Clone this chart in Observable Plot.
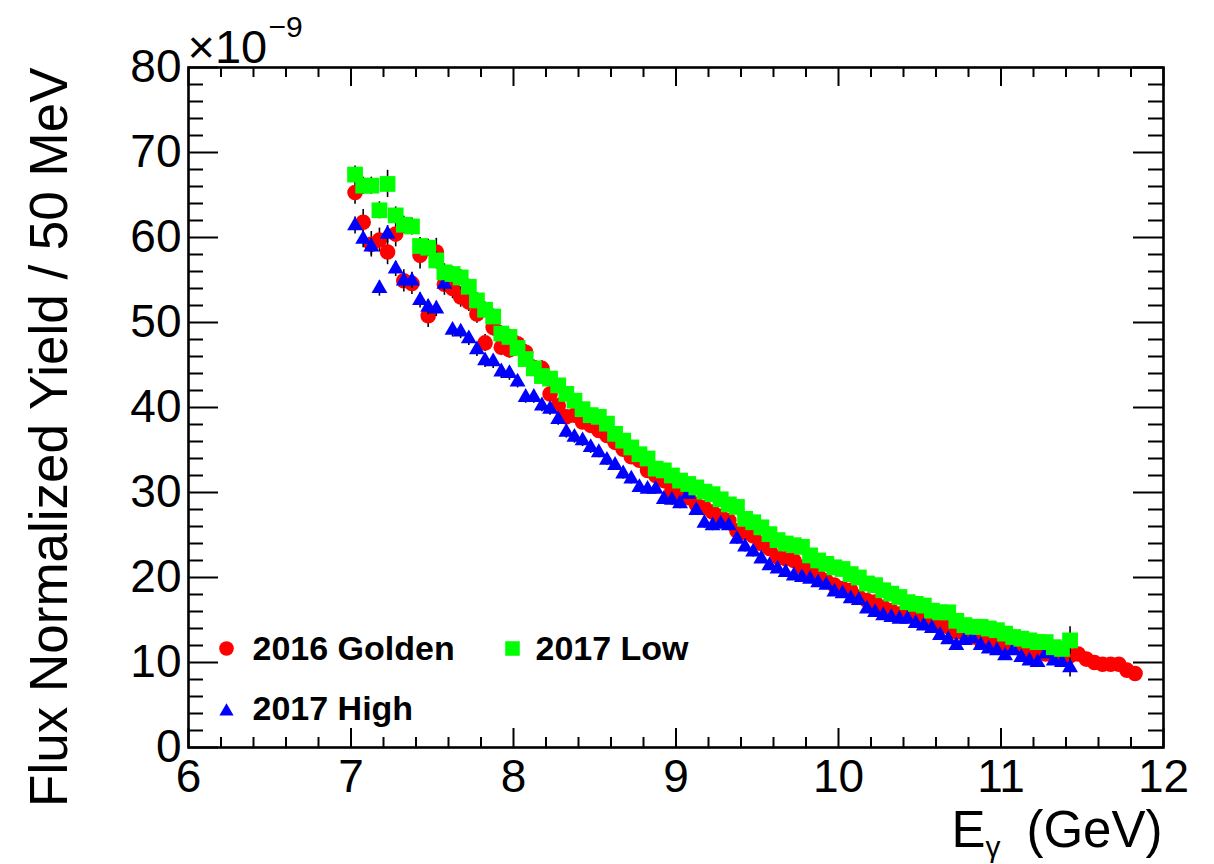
<!DOCTYPE html>
<html>
<head>
<meta charset="utf-8">
<script src="https://cdn.jsdelivr.net/npm/d3@7"></script>
<script src="https://cdn.jsdelivr.net/npm/@observablehq/plot@0.6"></script>
<style>
  html, body { margin: 0; padding: 0; background: #fff; }
  svg { display: block; }
</style>
</head>
<body>
<div id="chart"></div>
<script>
// ---- Bin centres (GeV), 50 MeV bins ----
const energy = [
  7.025,7.075,7.125,7.175,7.225,7.275,7.325,7.375,7.425,7.475,
  7.525,7.575,7.625,7.675,7.725,7.775,7.825,7.875,7.925,7.975,
  8.025,8.075,8.125,8.175,8.225,8.275,8.325,8.375,8.425,8.475,
  8.525,8.575,8.625,8.675,8.725,8.775,8.825,8.875,8.925,8.975,
  9.025,9.075,9.125,9.175,9.225,9.275,9.325,9.375,9.425,9.475,
  9.525,9.575,9.625,9.675,9.725,9.775,9.825,9.875,9.925,9.975,
  10.025,10.075,10.125,10.175,10.225,10.275,10.325,10.375,10.425,10.475,
  10.525,10.575,10.625,10.675,10.725,10.775,10.825,10.875,10.925,10.975,
  11.025,11.075,11.125,11.175,11.225,11.275,11.325,11.375,11.425,11.475,
  11.525,11.575,11.625,11.675,11.725,11.775,11.825
];

// ---- Series values (x 1e-9) ----
const golden2016 = [
  65.3,61.8,59.2,59.7,58.3,60.4,54.9,54.6,57.9,50.8,
  58.3,54.5,54.0,53.0,52.4,51.0,47.6,49.4,47.1,46.8,
  47.5,46.5,44.7,44.6,41.6,40.2,38.9,39.1,38.3,37.9,
  37.3,36.7,35.9,35.1,34.2,33.8,32.6,32.0,31.4,30.2,
  30.0,29.4,28.6,28.2,27.7,27.2,26.7,25.5,25.3,24.9,
  24.0,23.4,22.4,22.2,22.0,21.2,20.8,20.2,19.6,19.1,
  18.7,18.5,17.7,17.3,17.1,16.5,16.1,15.7,15.5,15.3,
  15.1,14.9,14.7,14.2,13.6,13.4,13.0,12.6,12.2,12.4,
  12.0,11.8,11.6,11.4,11.2,11.0,10.8,10.6,10.8,11.0,
  10.4,10.0,9.8,9.8,9.8,9.1,8.7
];
const low2017 = [
  67.4,66.1,66.1,63.2,66.3,62.6,61.5,61.3,59.0,58.8,
  57.3,55.9,55.7,55.3,54.2,52.6,51.5,50.7,48.7,48.3,
  47.0,45.7,44.6,43.7,43.4,42.6,41.6,40.8,39.8,39.1,
  38.9,38.1,36.9,36.1,35.3,34.5,34.0,32.8,32.6,32.0,
  31.4,31.0,30.6,30.1,29.8,29.2,28.6,28.3,26.9,26.5,
  25.9,25.1,24.4,24.0,23.8,23.6,22.6,22.0,21.6,21.2,
  21.0,20.4,20.0,19.3,19.1,18.5,18.1,17.7,17.1,16.9,
  16.7,16.1,15.9,15.9,14.9,14.4,14.2,14.2,14.0,13.8,
  13.4,13.0,12.8,12.6,12.4,12.4,11.8,11.6,12.6
];
const high2017 = [
  61.4,59.8,58.9,54.0,60.4,56.3,54.9,54.9,52.6,51.8,
  51.6,54.5,49.1,48.9,48.1,46.8,45.5,45.4,44.2,44.0,
  43.0,41.2,41.2,40.2,39.8,38.6,37.1,36.5,36.1,35.3,
  34.7,33.8,33.2,32.2,31.6,30.6,30.4,30.4,29.2,29.1,
  28.7,29.8,27.9,26.4,26.1,26.3,26.1,24.5,23.6,23.0,
  22.2,21.4,21.0,20.6,20.2,20.0,19.8,19.4,19.1,18.3,
  18.1,17.5,17.3,16.3,15.9,15.5,15.3,15.1,15.1,14.6,
  14.3,14.0,13.2,12.7,12.0,12.6,12.8,12.0,11.6,11.4,
  10.8,11.4,10.6,10.2,10.0,11.0,10.2,10.0,9.4
];

// ---- Statistical errors (x 1e-9) ----
const golden2016Err = [
  1.4,1.5,1.5,1.4,1.5,1.5,1.3,1.3,1.6,1.4,
  1.6,1.3,1.2,1.2,1.1,1.1,1.0,1.0,1.0,1.0,
  0.9,0.9,0.9,0.9,0.9,0.9,0.8,0.8,0.8,0.8,
  0.7,0.7,0.7,0.7,0.7,0.7,0.7,0.7,0.7,0.7,
  0.7,0.7,0.7,0.7,0.7,0.7,0.7,0.7,0.7,0.7,
  0.6,0.6,0.6,0.6,0.6,0.6,0.6,0.6,0.6,0.6,
  0.6,0.6,0.6,0.6,0.6,0.6,0.6,0.6,0.6,0.6,
  0.5,0.5,0.5,0.5,0.5,0.5,0.5,0.5,0.5,0.5,
  0.5,0.5,0.5,0.5,0.5,0.5,0.5,0.5,0.5,0.5,
  0.5,0.5,0.5,0.5,0.5,0.5,0.5
];
const low2017Err = [
  1.0,1.0,1.0,1.0,1.6,1.0,1.0,1.0,1.0,1.0,
  1.0,1.0,0.9,0.9,0.9,0.9,0.9,0.9,0.9,0.9,
  0.8,0.8,0.8,0.8,0.8,0.8,0.8,0.8,0.8,0.8,
  0.6,0.6,0.6,0.6,0.6,0.6,0.6,0.6,0.6,0.6,
  0.6,0.6,0.6,0.6,0.6,0.6,0.6,0.6,0.6,0.6,
  0.5,0.5,0.5,0.5,0.5,0.5,0.5,0.5,0.5,0.5,
  0.5,0.5,0.5,0.5,0.5,0.5,0.5,0.5,0.5,0.5,
  0.5,0.5,0.5,0.5,0.5,0.5,0.5,0.5,0.5,0.5,
  0.5,0.5,0.5,0.5,0.5,0.5,0.5,0.5,1.6
];
const high2017Err = [
  1.0,1.0,1.0,0.9,1.0,0.9,0.9,0.9,0.9,0.9,
  0.9,0.9,0.8,0.8,0.8,0.8,0.8,0.8,0.8,0.8,
  0.7,0.7,0.7,0.7,0.7,0.7,0.7,0.7,0.7,0.7,
  0.6,0.6,0.6,0.6,0.6,0.6,0.6,0.6,0.6,0.6,
  0.6,0.6,0.6,0.6,0.6,0.6,0.6,0.6,0.6,0.6,
  0.5,0.5,0.5,0.5,0.5,0.5,0.5,0.5,0.5,0.5,
  0.5,0.5,0.5,0.5,0.5,0.5,0.5,0.5,0.5,0.5,
  0.5,0.5,0.5,0.5,0.5,0.5,0.5,0.5,0.5,0.5,
  0.5,0.5,0.5,0.5,0.5,0.5,0.5,0.5,1.1
];

// ---- Series metadata ----
const seriesNames = ["2016 Golden", "2017 Low", "2017 High"];
const seriesColors = ["#ff0000", "#00ff00", "#0000ff"];

// ---- Axis ticks ----
const xMajorTicks = [6, 7, 8, 9, 10, 11, 12];
const xMinorTicks = d3.range(6, 12.0001, 0.2).map(v => +v.toFixed(1)).filter(v => !xMajorTicks.includes(v));
const yMajorTicks = [0, 10, 20, 30, 40, 50, 60, 70, 80];
const yMinorTicks = d3.range(0, 80.0001, 2).filter(v => !yMajorTicks.includes(v));

// ---- Build tables ----
function table(vals, errs) {
  return vals.map((v, i) => ({E: energy[i], v, err: errs[i]}));
}
const dGolden = table(golden2016, golden2016Err);
const dLow = table(low2017, low2017Err);
const dHigh = table(high2017, high2017Err);

// ---- Layout ----
const W = 1214, H = 864;
const mL = 188, mR = 51, mT = 67, mB = 117;
const fw = W - mL - mR, fh = H - mT - mB;
const font = "'Liberation Sans', Arial, Helvetica, sans-serif";
const rCircle = 7.8, rSquare = 8.9, rTriangle = 5.9;

const errRule = d => Plot.ruleX(d, {x: "E", y1: r => r.v - r.err, y2: r => r.v + r.err, stroke: "black", strokeWidth: 1.6});

const chart = Plot.plot({
  width: W, height: H,
  marginLeft: mL, marginRight: mR, marginTop: mT, marginBottom: mB,
  x: {domain: [6, 12]},
  y: {domain: [0, 80]},
  style: {fontFamily: font, background: "white", color: "black"},
  marks: [
    // series: 2016 Golden
    errRule(dGolden),
    Plot.dot(dGolden, {x: "E", y: "v", symbol: "circle", r: rCircle, fill: seriesColors[0], stroke: "none"}),
    // series: 2017 High
    errRule(dHigh),
    Plot.dot(dHigh, {x: "E", y: "v", symbol: "triangle", r: rTriangle, fill: seriesColors[2], stroke: "none"}),
    // series: 2017 Low
    errRule(dLow),
    Plot.dot(dLow, {x: "E", y: "v", symbol: "square", r: rSquare, fill: seriesColors[1], stroke: "none"}),

    // frame
    Plot.frame({stroke: "black", strokeWidth: 2.6}),

    // inward ticks, bottom and top
    Plot.tickX(xMajorTicks, {x: d => d, insetTop: fh - 19, stroke: "black", strokeWidth: 2}),
    Plot.tickX(xMinorTicks, {x: d => d, insetTop: fh - 10, stroke: "black", strokeWidth: 2}),
    Plot.tickX(xMajorTicks, {x: d => d, insetBottom: fh - 19, stroke: "black", strokeWidth: 2}),
    Plot.tickX(xMinorTicks, {x: d => d, insetBottom: fh - 10, stroke: "black", strokeWidth: 2}),
    // inward ticks, left and right
    Plot.tickY(yMajorTicks, {y: d => d, insetRight: fw - 30, stroke: "black", strokeWidth: 2}),
    Plot.tickY(yMinorTicks, {y: d => d, insetRight: fw - 15, stroke: "black", strokeWidth: 2}),
    Plot.tickY(yMajorTicks, {y: d => d, insetLeft: fw - 30, stroke: "black", strokeWidth: 2}),
    Plot.tickY(yMinorTicks, {y: d => d, insetLeft: fw - 15, stroke: "black", strokeWidth: 2}),

    // tick labels
    Plot.axisX({ticks: xMajorTicks, tickSize: 0, tickPadding: 12, fontSize: 46, tickFormat: d => String(d), label: null, anchor: "bottom"}),
    Plot.axisY({ticks: yMajorTicks, tickSize: 0, tickPadding: 7, fontSize: 46, tickFormat: d => String(d), label: null, anchor: "left"}),

    // exponent
    Plot.text(["\u00d710"], {text: d => d, frameAnchor: "top-left", dx: -1, dy: -20, textAnchor: "start", lineAnchor: "middle", fontSize: 47}),
    Plot.text(["\u22129"], {text: d => d, frameAnchor: "top-left", dx: 80, dy: -40, textAnchor: "start", lineAnchor: "middle", fontSize: 30}),

    // y title
    Plot.text(["Flux Normalized Yield / 50 MeV"], {text: d => d, frameAnchor: "top-left", dx: 50 - mL, dy: 0, rotate: -90, textAnchor: "end", lineAnchor: "middle", fontSize: 53}),

    // x title
    Plot.text(["(GeV)"], {text: d => d, frameAnchor: "bottom-right", dx: -1, dy: 830 - (H - mB), textAnchor: "end", lineAnchor: "middle", fontSize: 51}),
    Plot.text(["E"], {text: d => d, frameAnchor: "bottom-right", dx: 951 - (W - mR), dy: 830 - (H - mB), textAnchor: "start", lineAnchor: "middle", fontSize: 51}),
    Plot.text(["\u03b3"], {text: d => d, frameAnchor: "bottom-right", dx: 985 - (W - mR), dy: 847 - (H - mB), textAnchor: "start", lineAnchor: "middle", fontSize: 30}),

    // legend markers
    Plot.dot([seriesNames[0]], {frameAnchor: "bottom-left", dx: 38, dy: -99, symbol: "circle", r: 7.3, fill: seriesColors[0], stroke: "none"}),
    Plot.dot([seriesNames[1]], {frameAnchor: "bottom-left", dx: 324, dy: -99, symbol: "square", r: 8.2, fill: seriesColors[1], stroke: "none"}),
    Plot.dot([seriesNames[2]], {frameAnchor: "bottom-left", dx: 38, dy: -36, symbol: "triangle", r: 5.3, fill: seriesColors[2], stroke: "none"}),
    // legend labels
    Plot.text([seriesNames[0]], {text: d => d, frameAnchor: "bottom-left", dx: 64, dy: -98, textAnchor: "start", lineAnchor: "middle", fontSize: 34, fontWeight: "bold"}),
    Plot.text([seriesNames[1]], {text: d => d, frameAnchor: "bottom-left", dx: 347, dy: -98, textAnchor: "start", lineAnchor: "middle", fontSize: 34, fontWeight: "bold"}),
    Plot.text([seriesNames[2]], {text: d => d, frameAnchor: "bottom-left", dx: 64, dy: -38, textAnchor: "start", lineAnchor: "middle", fontSize: 34, fontWeight: "bold"})
  ]
});
document.getElementById("chart").appendChild(chart);
</script>
</body>
</html>
